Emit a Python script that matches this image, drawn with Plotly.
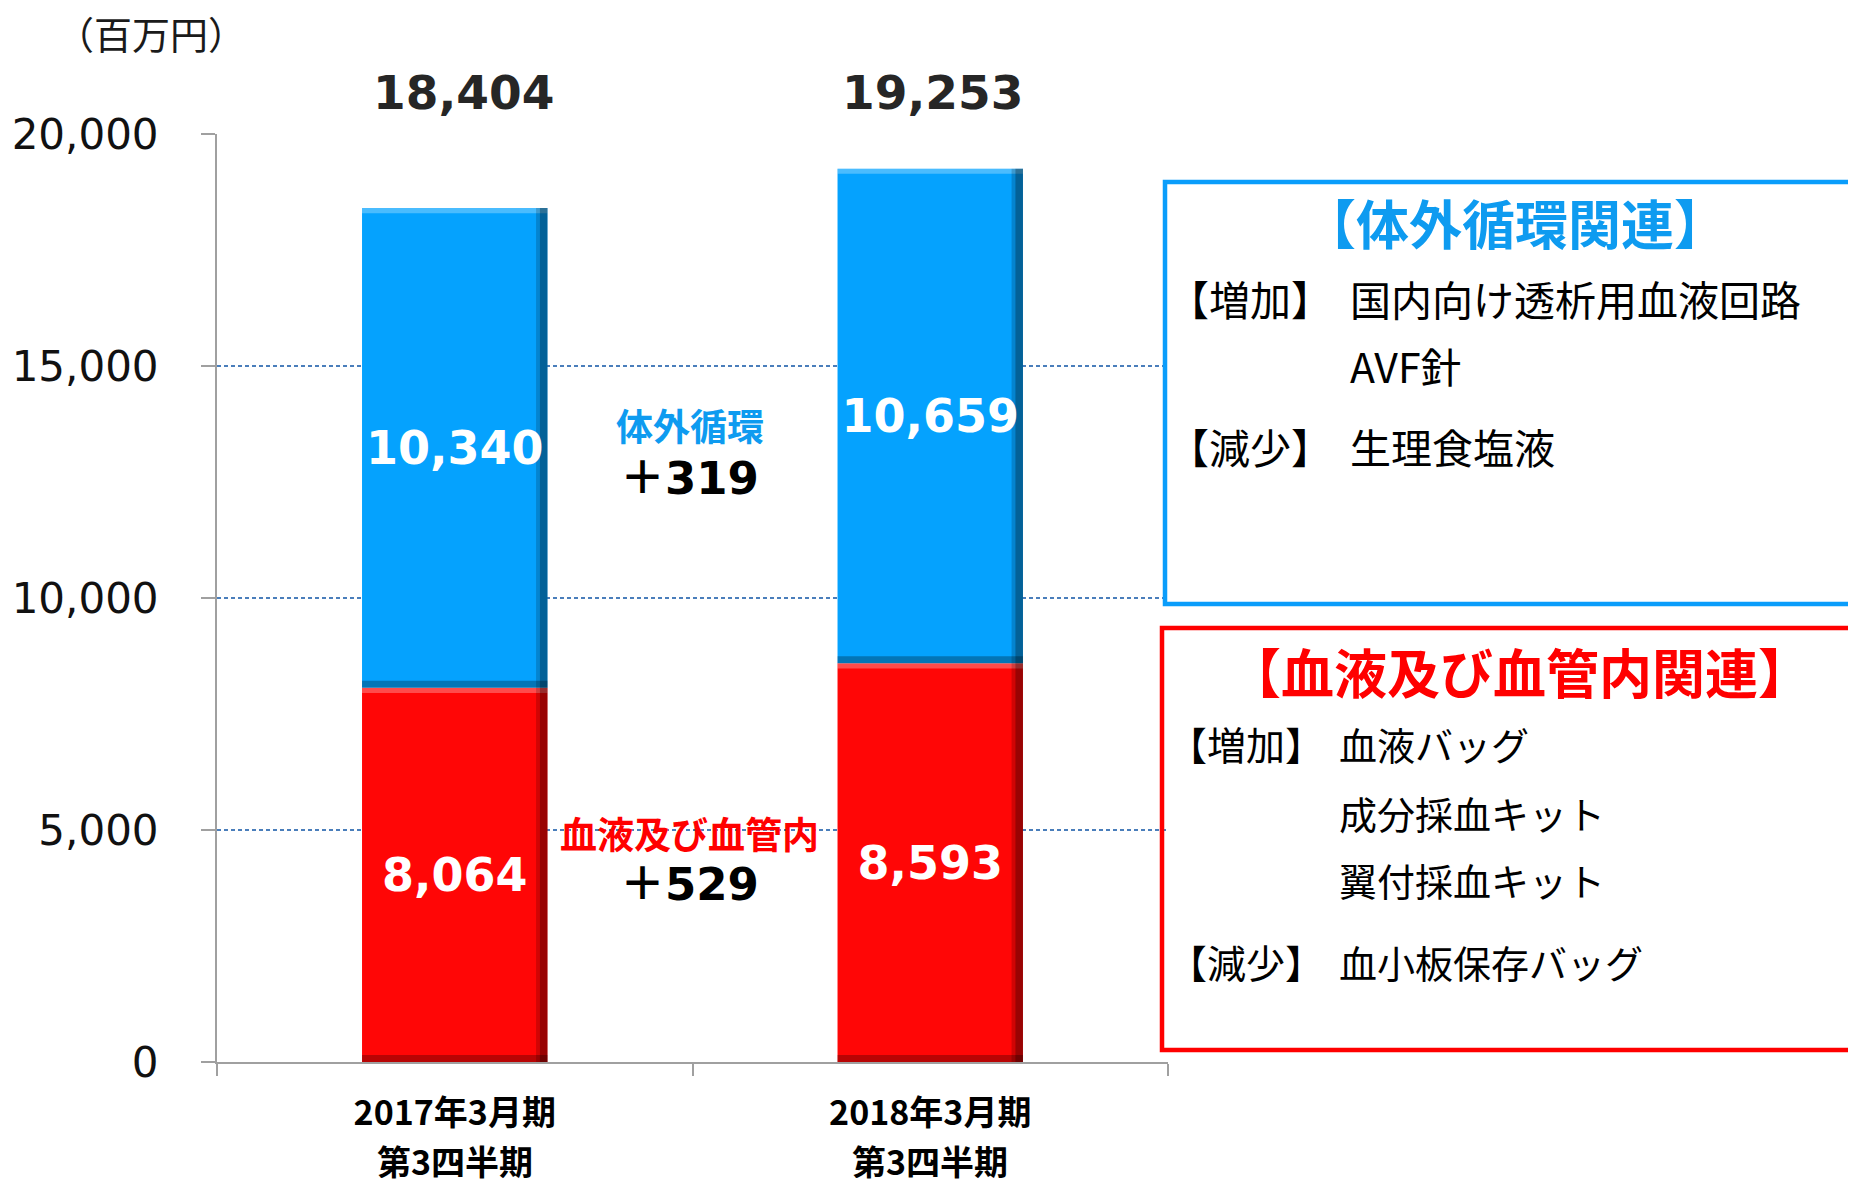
import plotly.graph_objects as go

# ---------------- data ----------------
categories = ["2017年3月期", "2018年3月期"]
category_line2 = ["第3四半期", "第3四半期"]
blood_values = [8064, 8593]              # 血液及び血管内
extracorporeal_values = [10340, 10659]   # 体外循環
total_values = [18404, 19253]
y_tick_values = [0, 5000, 10000, 15000, 20000]
y_tick_labels = ["0", "5,000", "10,000", "15,000", "20,000"]
unit_label = "（百万円）"
mid_labels = ["体外循環", "＋319", "血液及び血管内", "＋529"]
blue_box_title = "【体外循環関連】"
blue_box_rows = [("【増加】", "国内向け透析用血液回路"), ("", "AVF針"), ("【減少】", "生理食塩液")]
red_box_title = "【血液及び血管内関連】"
red_box_rows = [("【増加】", "血液バッグ"), ("", "成分採血キット"), ("", "翼付採血キット"),
                ("【減少】", "血小板保存バッグ")]

# ---------------- layout constants (page pixels) ----------------
OFF = 8                      # browser body margin
PAGE_W, PAGE_H = 1856, 1179
PLOT_L, PLOT_R, PLOT_T, PLOT_B = 217, 1168, 134, 1062
W, H = PAGE_W - OFF, PAGE_H - OFF
ML, MT = PLOT_L - OFF, PLOT_T - OFF
PW, PH = PLOT_R - PLOT_L, PLOT_B - PLOT_T
MR, MB = W - ML - PW, H - MT - PH

BLUE_BAR = "#05A2FE"
RED_BAR = "#FF0606"
BLUE_TXT = "#0E9BF0"
RED_TXT = "#FF0000"
NUM_FONT = "DejaVu Sans, Noto Sans CJK JP"
JP_FONT = "Noto Sans CJK JP, DejaVu Sans"
BAR_W = 0.39
TOTAL_XSHIFT = [9, 2]


def px(x):
    return (x - PLOT_L) / PW


def py(y):
    return (PLOT_B - y) / PH


blue_base = blood_values
seg_bases = [[0] * len(blood_values), blue_base]
seg_values = [blood_values, extracorporeal_values]
seg_colors = [RED_BAR, BLUE_BAR]
seg_names = ["血液及び血管内", "体外循環"]

fig = go.Figure()
for base, vals, col, name in zip(seg_bases, seg_values, seg_colors, seg_names):
    fig.add_trace(go.Bar(
        x=categories, y=vals, base=base, name=name,
        marker=dict(color=col, line=dict(width=0)),
        width=BAR_W, offset=-BAR_W / 2,
        hoverinfo="skip",
    ))

# bevel effect (derived from the same data)
for base, vals in zip(seg_bases, seg_values):
    tops = [b + v for b, v in zip(base, vals)]
    fig.add_trace(go.Bar(
        x=categories, y=[110] * len(vals), base=[t - 110 for t in tops],
        width=BAR_W, offset=-BAR_W / 2,
        marker=dict(color="rgba(255,255,255,0.28)", line=dict(width=0)), hoverinfo="skip",
    ))
    fig.add_trace(go.Bar(
        x=categories, y=[150] * len(vals), base=base,
        width=BAR_W, offset=-BAR_W / 2,
        marker=dict(color="rgba(0,0,0,0.28)", line=dict(width=0)), hoverinfo="skip",
    ))
    fig.add_trace(go.Bar(
        x=categories, y=vals, base=base,
        width=0.016, offset=BAR_W / 2 - 0.016,
        marker=dict(color="rgba(0,0,0,0.40)", line=dict(width=0)), hoverinfo="skip",
    ))
    fig.add_trace(go.Bar(
        x=categories, y=vals, base=base,
        width=0.008, offset=BAR_W / 2 - 0.024,
        marker=dict(color="rgba(0,0,0,0.18)", line=dict(width=0)), hoverinfo="skip",
    ))

# segment value labels
for base, vals in zip(seg_bases, seg_values):
    fig.add_trace(go.Bar(
        x=categories, y=vals, base=base,
        width=BAR_W, offset=-BAR_W / 2,
        marker=dict(color="rgba(0,0,0,0)", line=dict(width=0)),
        text=vals, texttemplate="%{y:,}", textposition="inside",
        insidetextanchor="middle", textangle=0, constraintext="none",
        textfont=dict(color="white", family=NUM_FONT, size=46, weight="bold"),
        hoverinfo="skip",
    ))

annotations = []
for cat, tot, xs in zip(categories, total_values, TOTAL_XSHIFT):
    annotations.append(dict(
        x=cat, xref="x", y=20000, yref="y", yshift=42, xshift=xs, yanchor="middle",
        text=f"{tot:,}", showarrow=False,
        font=dict(family=NUM_FONT, size=47, color="#262626", weight="bold"),
    ))
for cat, l2 in zip(categories, category_line2):
    annotations.append(dict(
        x=cat, xref="x", y=py(1160), yref="paper", yanchor="middle",
        text=l2, showarrow=False,
        font=dict(family=JP_FONT, size=34, color="#000000", weight="bold"),
    ))
annotations.append(dict(
    x=px(151), xref="paper", y=py(33), yref="paper", xanchor="center", yanchor="middle",
    text=unit_label, showarrow=False, font=dict(family=JP_FONT, size=38, color="#1a1a1a"),
))
mid_specs = [
    (mid_labels[0], 13724, BLUE_TXT, 37, JP_FONT),
    (mid_labels[1], 12578, "#000000", 45, NUM_FONT),
    (mid_labels[2], 4931, RED_TXT, 37, JP_FONT),
    (mid_labels[3], 3832, "#000000", 45, NUM_FONT),
]
for txt, yv, col, sz, fam in mid_specs:
    annotations.append(dict(
        x=0.497, xref="paper", y=yv, yref="y", xanchor="center", yanchor="middle",
        text=txt, showarrow=False, font=dict(family=fam, size=sz, color=col, weight="bold"),
    ))

annotations.append(dict(
    x=px(1515), xref="paper", y=py(222), yref="paper", xanchor="center", yanchor="middle",
    text=blue_box_title, showarrow=False,
    font=dict(family=JP_FONT, size=53, color=BLUE_TXT, weight="bold"),
))
for (lab, item), yp in zip(blue_box_rows, [298, 365, 446]):
    if lab:
        annotations.append(dict(
            x=px(1166), xref="paper", y=py(yp), yref="paper", xanchor="left", yanchor="middle",
            text=lab, showarrow=False, font=dict(family=JP_FONT, size=41, color="#000000"),
        ))
    annotations.append(dict(
        x=px(1348), xref="paper", y=py(yp), yref="paper", xanchor="left", yanchor="middle",
        text=item, showarrow=False, font=dict(family=JP_FONT, size=41, color="#000000"),
    ))

annotations.append(dict(
    x=px(1519), xref="paper", y=py(671), yref="paper", xanchor="center", yanchor="middle",
    text=red_box_title, showarrow=False,
    font=dict(family=JP_FONT, size=53, color=RED_TXT, weight="bold"),
))
for (lab, item), yp in zip(red_box_rows, [743, 812, 879, 961]):
    if lab:
        annotations.append(dict(
            x=px(1166), xref="paper", y=py(yp), yref="paper", xanchor="left", yanchor="middle",
            text=lab, showarrow=False, font=dict(family=JP_FONT, size=39, color="#000000"),
        ))
    annotations.append(dict(
        x=px(1337), xref="paper", y=py(yp), yref="paper", xanchor="left", yanchor="middle",
        text=item, showarrow=False, font=dict(family=JP_FONT, size=38, color="#000000"),
    ))

shapes = [
    dict(type="rect", xref="paper", yref="paper",
         x0=px(1165), x1=px(1920), y0=py(604), y1=py(182),
         line=dict(color="#0A9DFB", width=4.5), fillcolor="rgba(0,0,0,0)"),
    dict(type="rect", xref="paper", yref="paper",
         x0=px(1162), x1=px(1920), y0=py(1050), y1=py(628),
         line=dict(color="#FF0000", width=4.5), fillcolor="rgba(0,0,0,0)"),
]

fig.update_layout(
    width=W, height=H,
    margin=dict(l=ML, r=MR, t=MT, b=MB, pad=0),
    barmode="overlay",
    showlegend=False,
    plot_bgcolor="white", paper_bgcolor="white",
    annotations=annotations,
    shapes=shapes,
    uniformtext=dict(minsize=46, mode="show"),
    xaxis=dict(
        type="category", range=[-0.5, 1.5], automargin=False,
        showline=True, linecolor="#A0A0A0", linewidth=2,
        ticks="outside", tickson="boundaries", ticklen=12, tickcolor="#A0A0A0", tickwidth=1.5,
        tickfont=dict(family=JP_FONT, size=34, color="#000000", weight="bold"),
        ticklabelstandoff=20,
        showgrid=False, zeroline=False,
    ),
    yaxis=dict(
        range=[0, 20000], automargin=False,
        tickmode="array", tickvals=y_tick_values, ticktext=y_tick_labels,
        showgrid=True, gridcolor="#4A7EBB", gridwidth=1.5, griddash="4px,3px",
        showline=True, linecolor="#A0A0A0", linewidth=2,
        ticks="outside", ticklen=14, tickcolor="#A0A0A0", tickwidth=1.5,
        tickfont=dict(family=NUM_FONT, size=42, color="#111111"),
        ticklabelstandoff=34,
        zeroline=False,
    ),
)

fig.write_html("out.html")
